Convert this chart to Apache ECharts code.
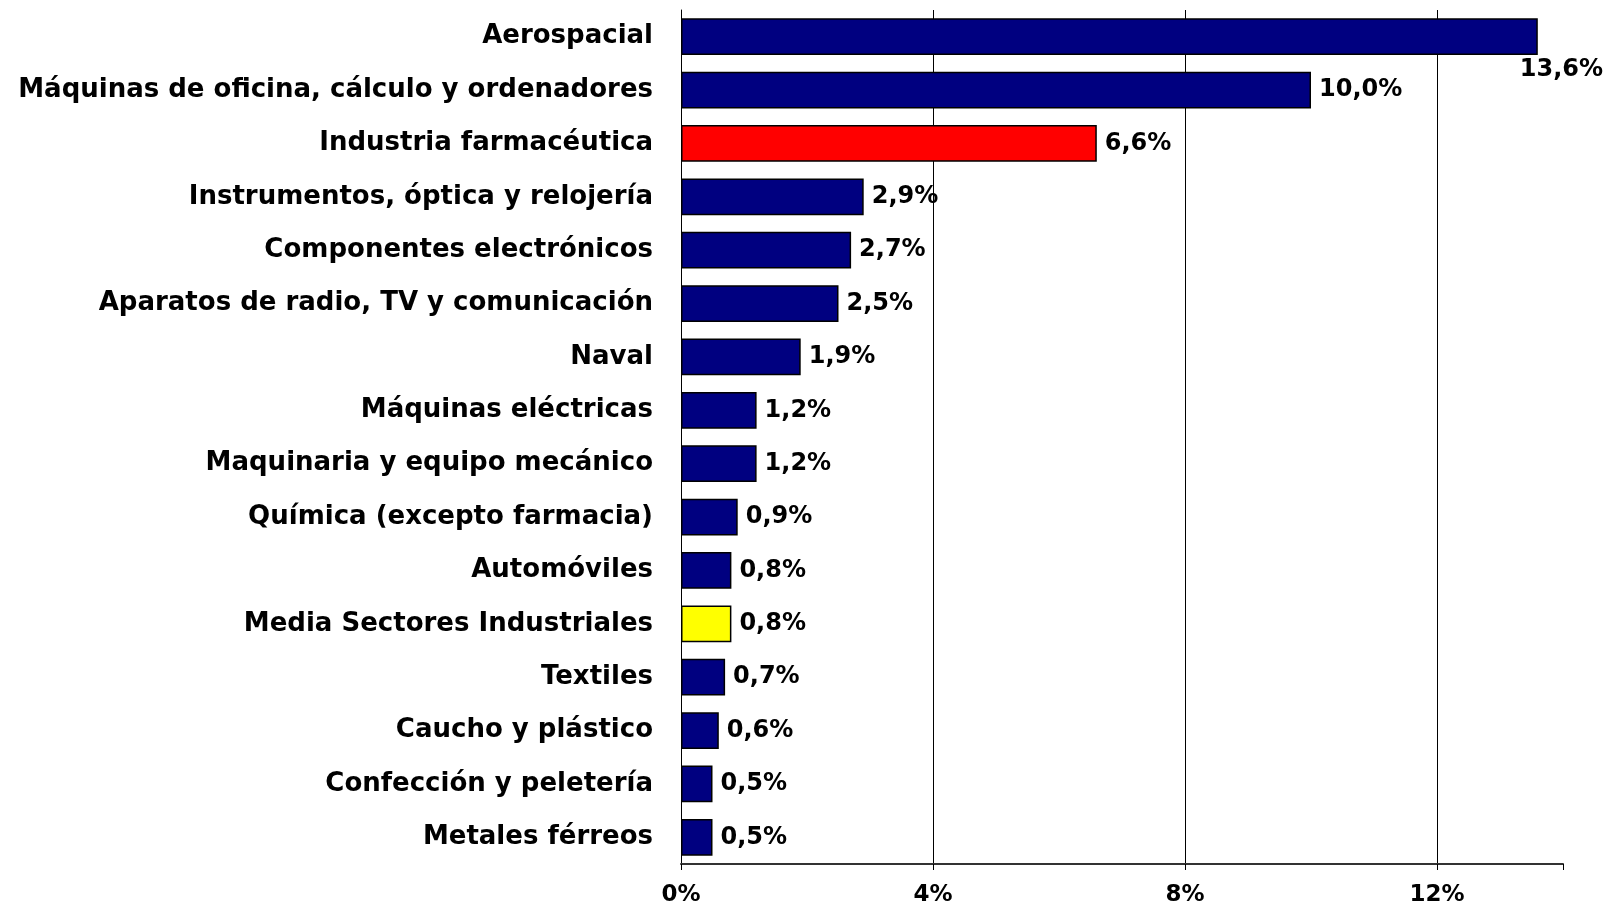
<!DOCTYPE html>
<html>
<head>
<meta charset="utf-8">
<script src="https://cdn.jsdelivr.net/npm/echarts@6/dist/echarts.min.js"></script>
<style>html,body{margin:0;padding:0;background:#fff}#c{width:1616px;height:907px}</style>
</head>
<body>
<div id="c"></div>
<script>
const categories = [
  "Aerospacial",
  "Máquinas de oficina, cálculo y ordenadores",
  "Industria farmacéutica",
  "Instrumentos, óptica y relojería",
  "Componentes electrónicos",
  "Aparatos de radio, TV y comunicación",
  "Naval",
  "Máquinas eléctricas",
  "Maquinaria y equipo mecánico",
  "Química (excepto farmacia)",
  "Automóviles",
  "Media Sectores Industriales",
  "Textiles",
  "Caucho y plástico",
  "Confección y peletería",
  "Metales férreos"
];
const values = [13.6, 10.0, 6.6, 2.9, 2.7, 2.5, 1.9, 1.2, 1.2, 0.9, 0.8, 0.8, 0.7, 0.6, 0.5, 0.5];
const highlightRed = "Industria farmacéutica";
const highlightYellow = "Media Sectores Industriales";
const xTickLabels = ["0%", "4%", "8%", "12%"];

const FONT = "DejaVu Sans";
const data = values.map((v, i) => {
  const c = categories[i];
  const item = {
    value: v,
    itemStyle: {
      color: c === highlightRed ? "#FF0000" : (c === highlightYellow ? "#FFFF00" : "#000080")
    }
  };
  if (i === 0) {
    item.label = { offset: [-26, 33] };
  }
  return item;
});

const chart = echarts.init(document.getElementById('c'), null, {renderer: 'canvas'});
chart.setOption({
  animation: false,
  backgroundColor: '#ffffff',
  grid: { left: 681, right: 53, top: 10, bottom: 37, containLabel: false },
  xAxis: {
    type: 'value', min: 0, max: 14, interval: 4,
    axisLine: { show: true, lineStyle: { color: '#333', width: 2 } },
    axisTick: { show: true, length: 6, lineStyle: { color: '#000' } },
    splitLine: { show: true, showMaxLine: false, lineStyle: { color: '#000', width: 1 } },
    axisLabel: {
      show: true,
      formatter: v => { const s = v + '%'; return xTickLabels.indexOf(s) >= 0 ? s : ''; },
      fontFamily: FONT, fontWeight: 'bold', fontSize: 23, color: '#000', margin: 20
    }
  },
  yAxis: {
    type: 'category', data: categories, inverse: true,
    axisLine: { show: true, lineStyle: { color: '#000', width: 1 } },
    axisTick: { show: false },
    axisLabel: { fontFamily: FONT, fontWeight: 'bold', fontSize: 26, color: '#000', margin: 28, padding: [4, 0, 0, 0] }
  },
  series: [{
    type: 'bar', data: data, barCategoryGap: '31%',
    itemStyle: { borderColor: '#000', borderWidth: 1.5 },
    label: {
      show: true, position: 'right', distance: 8,
      formatter: p => p.value.toFixed(1).replace('.', ',') + '%',
      fontFamily: FONT, fontWeight: 'bold', fontSize: 24, color: '#000'
    }
  }]
});
</script>
</body>
</html>
